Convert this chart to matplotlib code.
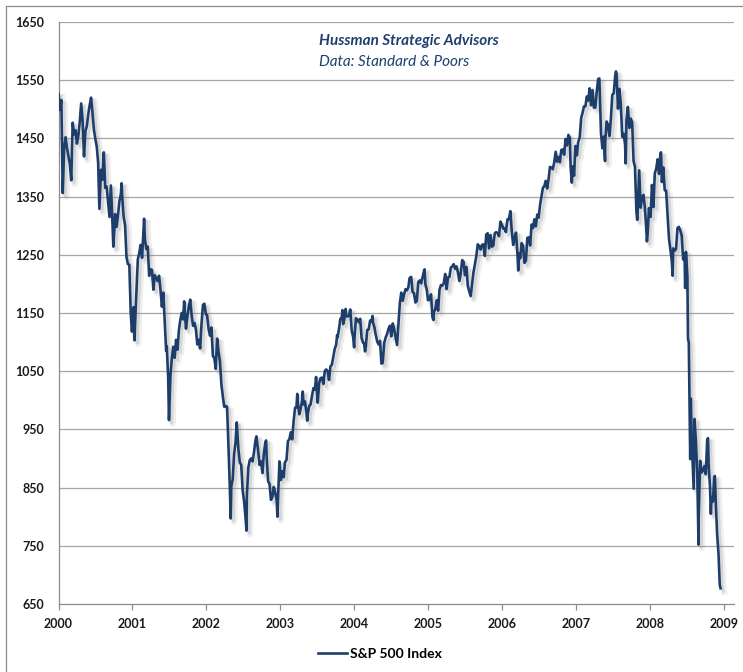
import matplotlib
matplotlib.use("Agg")
import matplotlib.pyplot as plt
import matplotlib.patheffects as pe
from matplotlib.lines import Line2D
import pandas as pd

# ---------------- data (S&P 500 closes, ~weekly, with notable turning points) ----------------
d2000 = ["03-24", "03-31", "04-07", "04-14", "04-21", "04-28", "05-05", "05-12", "05-19", "05-26",
         "06-02", "06-09", "06-16", "06-23", "06-30", "07-07", "07-14", "07-21", "07-28", "08-04",
         "08-11", "08-18", "08-25", "09-01", "09-08", "09-15", "09-22", "09-29", "10-06", "10-12",
         "10-20", "10-27", "11-03", "11-10", "11-17", "11-24", "12-01", "12-08", "12-15", "12-20", "12-29"]
v2000 = [1527, 1499, 1516, 1356, 1434, 1452, 1433, 1420, 1406, 1378,
         1477, 1457, 1464, 1441, 1455, 1478, 1510, 1481, 1419, 1462,
         1471, 1491, 1507, 1520, 1494, 1465, 1449, 1436, 1408, 1329,
         1396, 1379, 1426, 1365, 1367, 1341, 1315, 1369, 1312, 1264, 1320]

d2001 = ["01-05", "01-12", "01-19", "01-26", "01-30", "02-02", "02-09", "02-16", "02-23", "03-02",
         "03-09", "03-16", "03-22", "03-30", "04-04", "04-06", "04-13", "04-20", "04-27", "05-04",
         "05-11", "05-21", "05-25", "06-01", "06-08", "06-15", "06-22", "06-29", "07-06", "07-13",
         "07-20", "07-27", "08-03", "08-10", "08-17", "08-24", "08-31", "09-07", "09-10", "09-17",
         "09-21", "09-28", "10-05", "10-12", "10-19", "10-26", "11-02", "11-09", "11-16", "11-23",
         "11-30", "12-05", "12-07", "12-14", "12-21", "12-28"]
v2001 = [1298, 1318, 1342, 1354, 1373, 1350, 1315, 1301, 1246, 1234,
         1233, 1150, 1118, 1160, 1103, 1128, 1183, 1242, 1253, 1267,
         1245, 1312, 1277, 1260, 1264, 1214, 1225, 1224, 1190, 1215,
         1210, 1205, 1214, 1190, 1161, 1185, 1134, 1085, 1093, 1039,
         966, 1041, 1071, 1092, 1073, 1104, 1087, 1120, 1138, 1150,
         1139, 1170, 1158, 1123, 1144, 1161]

d2002 = ["01-04", "01-11", "01-18", "01-25", "02-01", "02-08", "02-15", "02-22", "03-01", "03-08",
         "03-15", "03-22", "03-28", "04-05", "04-12", "04-19", "04-26", "05-03", "05-10", "05-17",
         "05-24", "05-31", "06-07", "06-14", "06-21", "06-28", "07-05", "07-12", "07-19", "07-23",
         "07-26", "08-02", "08-09", "08-16", "08-22", "08-30", "09-06", "09-13", "09-20", "09-27",
         "10-04", "10-09", "10-11", "10-18", "10-25", "11-01", "11-08", "11-15", "11-22", "11-27",
         "12-06", "12-13", "12-20", "12-27"]
v2002 = [1173, 1146, 1128, 1133, 1122, 1096, 1104, 1089, 1132, 1164,
         1166, 1148, 1147, 1122, 1111, 1125, 1076, 1073, 1054, 1106,
         1083, 1067, 1027, 1007, 989, 990, 989, 921, 847, 797,
         852, 864, 908, 928, 962, 916, 893, 889, 846, 827,
         800, 776, 835, 884, 897, 900, 895, 910, 930, 938,
         912, 889, 895, 875]

d2003 = ["01-03", "01-10", "01-14", "01-17", "01-24", "01-31", "02-07", "02-14", "02-21", "02-28",
         "03-07", "03-11", "03-14", "03-21", "03-28", "04-04", "04-11", "04-17", "04-25", "05-02",
         "05-09", "05-16", "05-23", "05-30", "06-06", "06-13", "06-17", "06-20", "06-27", "07-03",
         "07-11", "07-14", "07-18", "07-25", "08-01", "08-05", "08-08", "08-15", "08-22", "08-29",
         "09-05", "09-12", "09-18", "09-26", "10-03", "10-10", "10-17", "10-24", "10-31", "11-07",
         "11-14", "11-21", "11-28", "12-05", "12-12", "12-19", "12-26", "12-31"]
v2003 = [909, 927, 931, 901, 861, 856, 829, 834, 851, 841,
         829, 800, 833, 895, 863, 878, 868, 893, 898, 930,
         933, 945, 933, 964, 987, 988, 1011, 995, 976, 985,
         998, 1015, 993, 998, 980, 965, 977, 990, 993, 1008,
         1021, 1018, 1040, 996, 1029, 1038, 1039, 1028, 1050, 1053,
         1050, 1035, 1058, 1061, 1074, 1088, 1095, 1112]

d2004 = ["01-02", "01-09", "01-16", "01-23", "01-26", "01-30", "02-06", "02-11", "02-13", "02-20",
         "02-27", "03-05", "03-12", "03-19", "03-24", "03-26", "04-02", "04-09", "04-16", "04-23",
         "04-30", "05-07", "05-12", "05-17", "05-21", "05-28", "06-04", "06-11", "06-18", "06-23",
         "06-25", "07-02", "07-09", "07-16", "07-23", "07-30", "08-06", "08-12", "08-20", "08-27",
         "09-03", "09-10", "09-17", "09-24", "10-01", "10-08", "10-15", "10-22", "10-29", "11-05",
         "11-12", "11-19", "11-26", "12-03", "12-10", "12-17", "12-23", "12-31"]
v2004 = [1108, 1122, 1140, 1141, 1155, 1131, 1142, 1157, 1145, 1144,
         1145, 1156, 1120, 1109, 1091, 1108, 1141, 1139, 1134, 1140,
         1107, 1099, 1098, 1084, 1093, 1121, 1122, 1137, 1135, 1145,
         1134, 1126, 1112, 1101, 1096, 1102, 1063, 1064, 1099, 1108,
         1114, 1123, 1128, 1110, 1132, 1122, 1108, 1095, 1130, 1167,
         1185, 1171, 1182, 1191, 1189, 1194, 1210, 1212]

d2005 = ["01-07", "01-14", "01-21", "01-28", "02-04", "02-11", "02-18", "02-25", "03-04", "03-07",
         "03-11", "03-18", "03-24", "04-01", "04-08", "04-15", "04-20", "04-22", "04-29", "05-06",
         "05-13", "05-20", "05-27", "06-03", "06-10", "06-17", "06-24", "07-01", "07-08", "07-15",
         "07-22", "07-29", "08-05", "08-12", "08-19", "08-26", "09-02", "09-09", "09-16", "09-23",
         "09-30", "10-07", "10-14", "10-21", "10-28", "11-04", "11-11", "11-18", "11-25", "12-02",
         "12-09", "12-16", "12-23", "12-30"]
v2005 = [1186, 1184, 1168, 1171, 1203, 1206, 1201, 1211, 1222, 1225,
         1200, 1190, 1172, 1173, 1182, 1143, 1138, 1152, 1156, 1172,
         1154, 1190, 1198, 1197, 1201, 1217, 1191, 1211, 1212, 1228,
         1230, 1234, 1226, 1230, 1220, 1205, 1218, 1241, 1238, 1215,
         1229, 1196, 1187, 1179, 1199, 1220, 1234, 1248, 1268, 1265,
         1259, 1267, 1268, 1248]

d2006 = ["01-06", "01-13", "01-20", "01-27", "02-03", "02-10", "02-17", "02-24", "03-03", "03-10",
         "03-17", "03-24", "03-31", "04-07", "04-13", "04-21", "04-28", "05-05", "05-12", "05-19",
         "05-26", "06-02", "06-09", "06-13", "06-16", "06-23", "06-30", "07-07", "07-14", "07-21",
         "07-28", "08-04", "08-11", "08-18", "08-25", "09-01", "09-08", "09-15", "09-22", "09-29",
         "10-06", "10-13", "10-20", "10-27", "11-03", "11-10", "11-17", "11-24", "12-01", "12-08",
         "12-15", "12-22", "12-29"]
v2006 = [1285, 1287, 1261, 1284, 1264, 1266, 1287, 1289, 1287, 1282,
         1307, 1302, 1295, 1295, 1289, 1311, 1311, 1325, 1291, 1267,
         1280, 1288, 1253, 1223, 1252, 1244, 1270, 1265, 1236, 1240,
         1279, 1280, 1266, 1302, 1296, 1311, 1299, 1319, 1314, 1336,
         1350, 1365, 1368, 1377, 1364, 1380, 1401, 1400, 1397, 1409,
         1427, 1410, 1418]

d2007 = ["01-05", "01-12", "01-19", "01-26", "02-02", "02-09", "02-16", "02-23", "02-27", "03-02",
         "03-05", "03-09", "03-16", "03-23", "03-30", "04-05", "04-13", "04-20", "04-27", "05-04",
         "05-11", "05-18", "05-25", "06-01", "06-08", "06-15", "06-22", "06-29", "07-06", "07-13",
         "07-19", "07-27", "08-03", "08-10", "08-16", "08-17", "08-24", "08-31", "09-07", "09-14",
         "09-21", "09-28", "10-05", "10-09", "10-12", "10-19", "10-26", "11-02", "11-09", "11-16",
         "11-23", "11-26", "11-30", "12-07", "12-14", "12-21", "12-28"]
v2007 = [1409, 1430, 1431, 1422, 1449, 1438, 1456, 1451, 1400, 1387,
         1374, 1402, 1386, 1437, 1421, 1443, 1452, 1485, 1494, 1505,
         1505, 1522, 1515, 1536, 1507, 1533, 1503, 1503, 1530, 1552,
         1553, 1459, 1433, 1453, 1411, 1445, 1479, 1473, 1454, 1484,
         1525, 1527, 1557, 1565, 1561, 1501, 1535, 1509, 1453, 1458,
         1440, 1407, 1481, 1504, 1468, 1484, 1478]

d2008 = ["01-04", "01-11", "01-18", "01-22", "01-25", "02-01", "02-08", "02-15", "02-22", "02-29",
         "03-07", "03-10", "03-14", "03-20", "03-28", "04-04", "04-11", "04-18", "04-25", "05-02",
         "05-09", "05-16", "05-19", "05-23", "05-30", "06-06", "06-13", "06-20", "06-27", "07-03",
         "07-11", "07-15", "07-18", "07-25", "08-01", "08-08", "08-15", "08-22", "08-29", "09-05",
         "09-12", "09-15", "09-19", "09-26", "09-29", "10-03", "10-10", "10-13", "10-17", "10-24",
         "10-27", "10-31", "11-07", "11-14", "11-20", "11-21", "11-28", "12-05", "12-12", "12-19",
         "12-26"]
v2008 = [1411, 1401, 1325, 1310, 1330, 1395, 1331, 1349, 1353, 1331,
         1293, 1273, 1288, 1330, 1315, 1370, 1332, 1390, 1398, 1414,
         1389, 1425, 1426, 1375, 1400, 1361, 1360, 1318, 1278, 1262,
         1239, 1214, 1261, 1257, 1260, 1296, 1298, 1292, 1283, 1242,
         1252, 1193, 1255, 1213, 1106, 1099, 899, 1003, 940, 877,
         848, 968, 930, 873, 752, 800, 896, 876, 879, 887,
         873]

d2009 = ["01-02", "01-06", "01-09", "01-16", "01-20", "01-23", "01-30", "02-06", "02-09", "02-13",
         "02-20", "02-27", "03-05", "03-09"]
v2009 = [932, 935, 890, 850, 805, 832, 826, 869, 870, 827,
         770, 735, 683, 677]

year_blocks = [(2000, d2000, v2000), (2001, d2001, v2001), (2002, d2002, v2002),
               (2003, d2003, v2003), (2004, d2004, v2004), (2005, d2005, v2005),
               (2006, d2006, v2006), (2007, d2007, v2007), (2008, d2008, v2008),
               (2009, d2009, v2009)]

tick_labels = ["2000", "2001", "2002", "2003", "2004", "2005", "2006", "2007", "2008", "2009"]
y_ticks = [650, 750, 850, 950, 1050, 1150, 1250, 1350, 1450, 1550, 1650]

series_name = "S&P 500 Index"
title_line1 = "Hussman Strategic Advisors"
title_line2 = "Data: Standard & Poors"

# ---------------- build series ----------------
dates = []
values = []
for yr, ds, vs in year_blocks:
    dates += [f"{yr}-{d}" for d in ds]
    values += vs
dates = pd.to_datetime(dates)
# the chart's axis positions the series start at its first category label
x = 2000 + (dates - dates[0]).days / 365.25

# ---------------- figure ----------------
plt.rcParams['font.family'] = ['Lato', 'DejaVu Sans']
W, H = 743, 672
fig = plt.figure(figsize=(W / 100, H / 100), dpi=100)
fig.patch.set_facecolor("white")

ax = fig.add_axes([58.5 / W, 1 - 604 / H, (734 - 58.5) / W, (604 - 22) / H])
ax.set_xlim(2000, 2009.14)
ax.set_ylim(650, 1650)

grid_c = "#a6a6a6"
ax.set_yticks(y_ticks)
ax.set_yticklabels([str(t) for t in y_ticks])
ax.set_xticks(range(2000, 2010))
ax.set_xticklabels(tick_labels)
for yv in y_ticks[1:]:
    ax.axhline(yv, color=grid_c, lw=0.9, zorder=1)

for s in ["top", "right"]:
    ax.spines[s].set_visible(False)
for s in ["left", "bottom"]:
    ax.spines[s].set_color("#8c8c8c")
    ax.spines[s].set_linewidth(0.9)

ax.tick_params(axis="y", length=0, pad=10, labelsize=9, labelcolor="#1a1a1a")
ax.tick_params(axis="x", length=4, width=0.9, color="#8c8c8c", direction="out", pad=6,
               labelsize=9, labelcolor="#1a1a1a")
for lab in ax.get_xticklabels() + ax.get_yticklabels():
    lab.set_fontweight("bold")

line_c = "#1d3e6b"
ax.plot(x, values, color=line_c, lw=1.9, zorder=3, solid_joinstyle="round",
        path_effects=[pe.SimpleLineShadow(offset=(2.5, -2.5), shadow_color="#909090", alpha=0.15,
                                          linewidth=4.5),
                      pe.SimpleLineShadow(offset=(2, -2), shadow_color="#808080", alpha=0.22),
                      pe.Normal()])

# annotation
fig.text(319 / W, 1 - 45 / H, title_line1, fontsize=11, style="italic", fontweight="bold",
         color="#1f3f6e", va="baseline", ha="left")
fig.text(319 / W, 1 - 66 / H, title_line2, fontsize=11, style="italic",
         color="#1f3f6e", va="baseline", ha="left")

# legend
handle = Line2D([], [], color=line_c, lw=1.9)
fig.legend([handle], [series_name], loc="center", bbox_to_anchor=(380 / W, 1 - 654 / H),
           frameon=False, handlelength=2.1, handletextpad=0.25,
           prop={"weight": "bold", "size": 10})

# outer frame (left and top edges visible)
fig.add_artist(Line2D([6 / W, 6 / W], [0, 1 - 6 / H], transform=fig.transFigure,
                      color="#8c8c8c", lw=0.9))
fig.add_artist(Line2D([6 / W, 1], [1 - 6 / H, 1 - 6 / H], transform=fig.transFigure,
                      color="#8c8c8c", lw=0.9))

fig.savefig("out.png", dpi=100)
